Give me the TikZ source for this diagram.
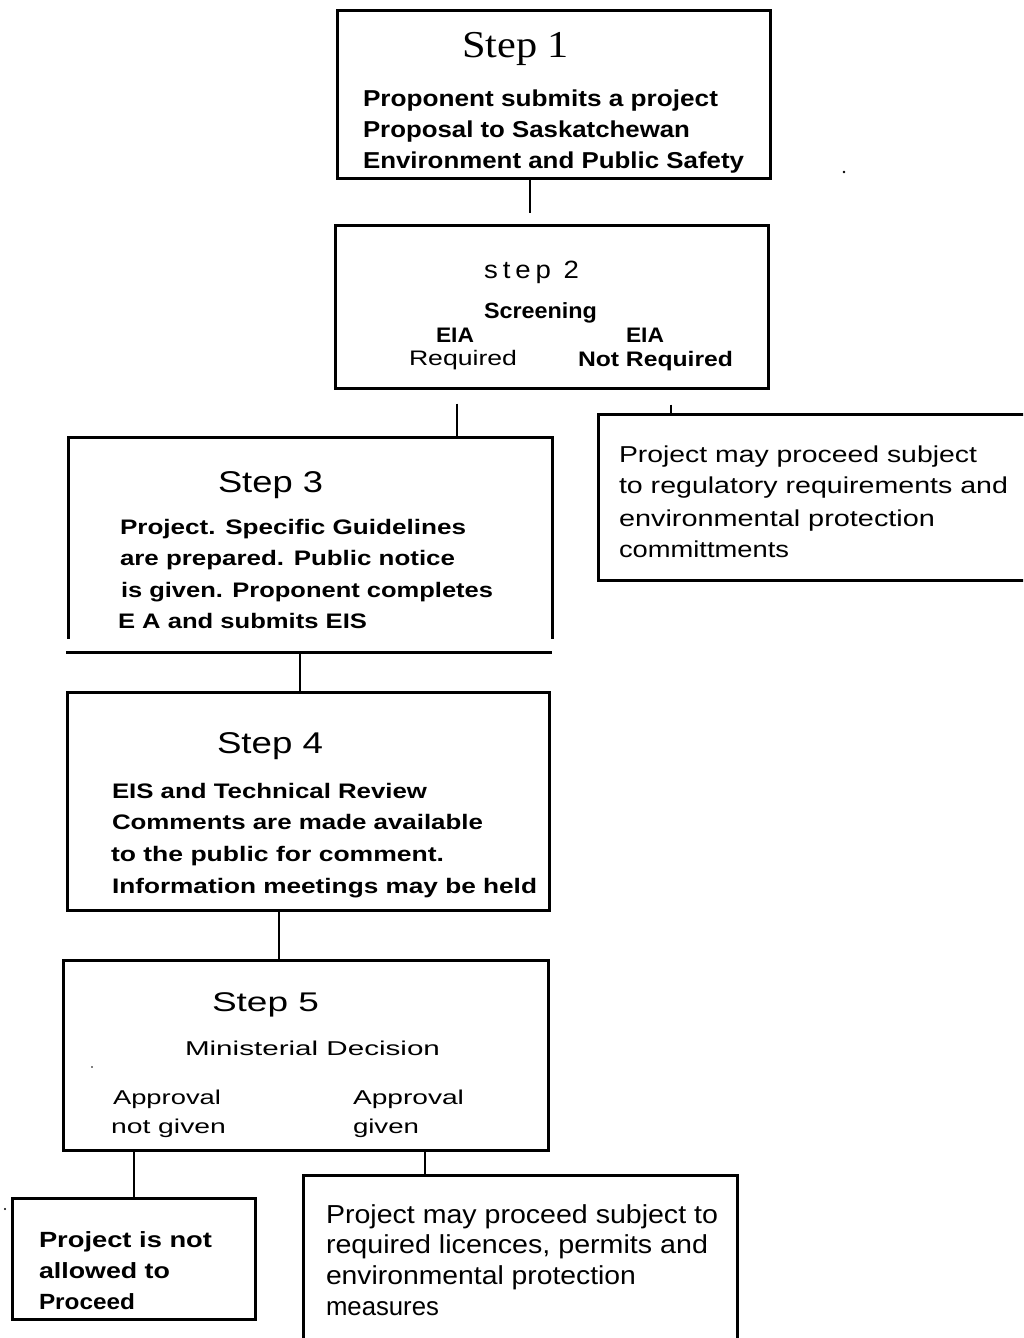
\documentclass[tikz,border=0pt]{standalone}
\usepackage{fontspec}
\usepackage{graphicx}
\setmainfont{Liberation Sans}
\newfontfamily\serifstep{Liberation Serif}
\newfontfamily\spacedsans{Liberation Sans}[LetterSpace=18]
% set a line of text to an exact width (in px = pt), keeping its height
\newcommand\fitto[2]{\resizebox{#1pt}{\height}{#2}}
\newcommand\fs[1]{\fontsize{#1}{#1}\selectfont}
\tikzset{
  boxline/.style={line width=3pt, line cap=rect},
  stepbox/.style={draw, boxline, inner sep=0pt},
  conn/.style={line width=2.8pt},
  lbl/.style={inner sep=0pt, outer sep=0pt, anchor=base west},
  speck/.style={fill=black, draw=none},
}
\begin{document}
\begin{tikzpicture}[x=1pt, y=-1pt]
\useasboundingbox (0,0) rectangle (1023,1338);
\clip (0,0) rectangle (1023,1338);
\fill[white] (0,0) rectangle (1023,1338);

% ---- boxes ----
\node[stepbox, minimum width=433, minimum height=167] (s1) at (553.5,94.5) {};
\node[stepbox, minimum width=433, minimum height=163] (s2) at (551.5,306.5) {};
\node[stepbox, minimum width=447, minimum height=166] (nr) at (821.5,497) {};
\node[inner sep=0pt, minimum width=483, minimum height=214] (s3) at (310.5,545) {};
\node[stepbox, minimum width=482, minimum height=218] (s4) at (308.5,801.5) {};
\node[stepbox, minimum width=485, minimum height=190] (s5) at (305.5,1055) {};
\node[stepbox, minimum width=243, minimum height=121] (na) at (134,1258.5) {};
\node[stepbox, minimum width=434, minimum height=190] (mp) at (520,1270) {};

% step 3 frame: open lower corners, separate base line
\draw[boxline] ([yshift=15pt]s3.south west) -- (s3.north west) -- (s3.north east) -- ([yshift=15pt]s3.south east);
\draw[boxline] ([xshift=-1pt]s3.south west) -- ([xshift=-2pt]s3.south east);

% ---- connectors ----
\coordinate (k12) at (530,0);
\coordinate (k2a) at (457,0);
\coordinate (k2b) at (671,0);
\coordinate (k34) at (300,0);
\coordinate (k45) at (279,0);
\coordinate (k5a) at (134,0);
\coordinate (k5b) at (425,0);
\draw[conn, shorten >=11pt] (s1.south -| k12) -- (s2.north -| k12);
\draw[conn, shorten <=14pt] (s2.south -| k2a) -- (s3.north -| k2a);
\draw[conn, shorten <=15pt] (s2.south -| k2b) -- (nr.north -| k2b);
\draw[conn] (s3.south -| k34) -- (s4.north -| k34);
\draw[conn] (s4.south -| k45) -- (s5.north -| k45);
\draw[conn] (s5.south -| k5a) -- (na.north -| k5a);
\draw[conn] (s5.south -| k5b) -- (mp.north -| k5b);

% ---- step 1 ----
\node[lbl, font=\serifstep\fs{38}] (t1) at (462,58) {\fitto{107}{Step 1}};
\node[lbl, font=\fs{23}\bfseries] (t1a) at (363,106) {\fitto{355}{Proponent submits a project}};
\node[lbl, font=\fs{23}\bfseries] (t1b) at (363,137) {\fitto{327}{Proposal to Saskatchewan}};
\node[lbl, font=\fs{23}\bfseries] (t1c) at (363,168) {\fitto{381}{Environment and Public Safety}};

% ---- step 2 ----
\node[lbl, font=\spacedsans\fs{25}] (t2) at (484,278) {\fitto{95}{step 2}};
\node[lbl, font=\fs{22}\bfseries] (t2a) at (484,318) {\fitto{113}{Screening}};
\node[lbl, font=\fs{21}\bfseries] (t2b) at (436,342) {\fitto{38}{EIA}};
\node[lbl, font=\fs{21}] (t2c) at (409,365) {\fitto{108}{Required}};
\node[lbl, font=\fs{21}\bfseries] (t2d) at (626,342) {\fitto{38}{EIA}};
\node[lbl, font=\fs{21}\bfseries] (t2e) at (578,366) {\fitto{155}{Not Required}};

% ---- screening outcome: no EIA ----
\node[lbl, font=\fs{23}] (tn1) at (619,462) {\fitto{358}{Project may proceed subject}};
\node[lbl, font=\fs{23}] (tn2) at (619,493) {\fitto{389}{to regulatory requirements and}};
\node[lbl, font=\fs{23}] (tn3) at (619,526) {\fitto{316}{environmental protection}};
\node[lbl, font=\fs{23}] (tn4) at (619,557) {\fitto{170}{committments}};

% ---- step 3 ----
\node[lbl, font=\fs{30}] (t3) at (218,492) {\fitto{105}{Step 3}};
\node[lbl, font=\fs{21}\bfseries] (t3a) at (120,534) {\fitto{346}{Project. Specific Guidelines}};
\node[lbl, font=\fs{21}\bfseries] (t3b) at (120,565) {\fitto{335}{are prepared. Public notice}};
\node[lbl, font=\fs{21}\bfseries] (t3c) at (121,597) {\fitto{372}{is given. Proponent completes}};
\node[lbl, font=\fs{21}\bfseries] (t3d) at (118,628) {\fitto{249}{E A and submits EIS}};

% ---- step 4 ----
\node[lbl, font=\fs{30}] (t4) at (217,753) {\fitto{106}{Step 4}};
\node[lbl, font=\fs{21}\bfseries] (t4a) at (112,798) {\fitto{315}{EIS and Technical Review}};
\node[lbl, font=\fs{21}\bfseries] (t4b) at (112,829) {\fitto{371}{Comments are made available}};
\node[lbl, font=\fs{21}\bfseries] (t4c) at (111,861) {\fitto{333}{to the public for comment.}};
\node[lbl, font=\fs{21}\bfseries] (t4d) at (112,893) {\fitto{425}{Information meetings may be held}};

% ---- step 5 ----
\node[lbl, font=\fs{27}] (t5) at (212,1011) {\fitto{107}{Step 5}};
\node[lbl, font=\fs{20}] (t5a) at (185,1055) {\fitto{255}{Ministerial Decision}};
\node[lbl, font=\fs{20}] (t5b) at (113,1104) {\fitto{108}{Approval}};
\node[lbl, font=\fs{20}] (t5c) at (111,1133) {\fitto{115}{not given}};
\node[lbl, font=\fs{20}] (t5d) at (353,1104) {\fitto{111}{Approval}};
\node[lbl, font=\fs{20}] (t5e) at (353,1133) {\fitto{66}{given}};

% ---- decision outcomes ----
\node[lbl, font=\fs{22}\bfseries] (ta1) at (39,1247) {\fitto{173}{Project is not}};
\node[lbl, font=\fs{22}\bfseries] (ta2) at (39,1278) {\fitto{131}{allowed to}};
\node[lbl, font=\fs{22}\bfseries] (ta3) at (39,1309) {\fitto{96}{Proceed}};

\node[lbl, font=\fs{26}] (tp1) at (326,1223) {\fitto{392}{Project may proceed subject to}};
\node[lbl, font=\fs{26}] (tp2) at (326,1253) {\fitto{382}{required licences, permits and}};
\node[lbl, font=\fs{26}] (tp3) at (326,1284) {\fitto{310}{environmental protection}};
\node[lbl, font=\fs{26}] (tp4) at (326,1315) {\fitto{113}{measures}};

% small specks
\fill[speck] (844,172) circle (1.3);
\fill[speck] (5,1209) circle (1.2);
\fill[speck] (92,1067) circle (0.9);
\end{tikzpicture}
\end{document}
